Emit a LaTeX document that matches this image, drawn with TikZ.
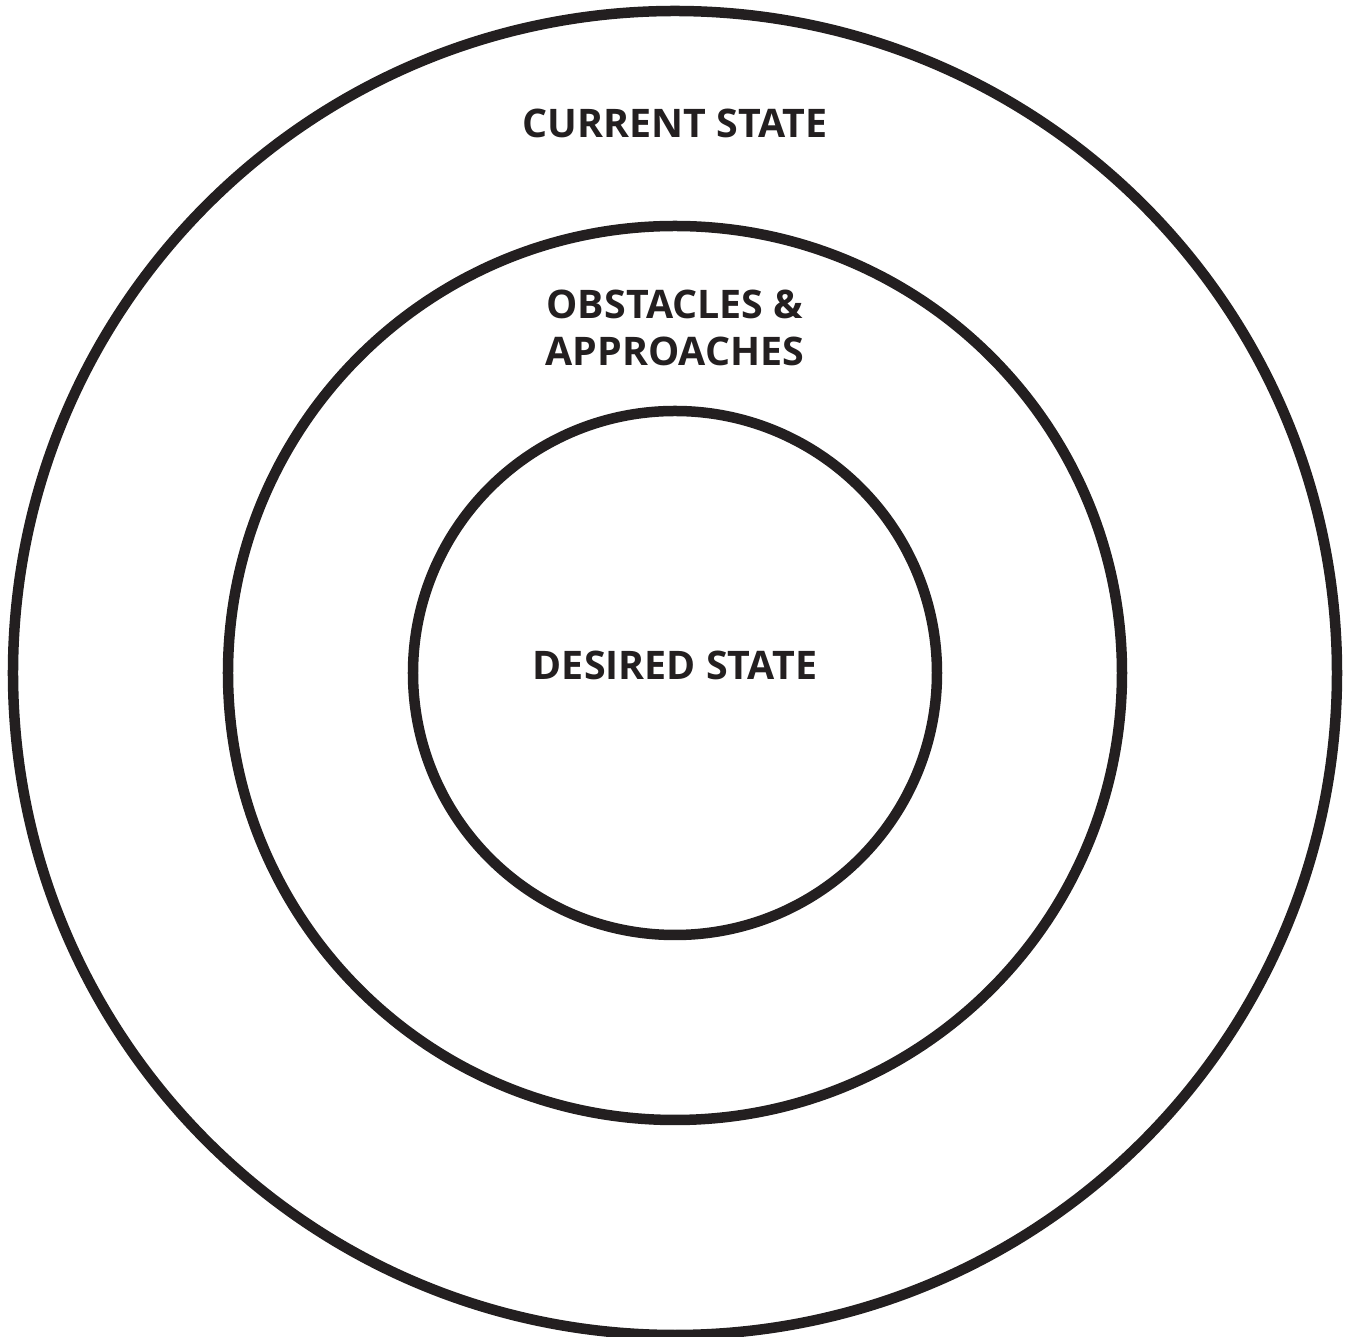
\documentclass[tikz,border=0pt]{standalone}
\usepackage{fontspec}
\setmainfont{Open Sans}
\usepackage{xcolor}
\usetikzlibrary{positioning}
\definecolor{ink}{HTML}{231F20}

\begin{document}
\begin{tikzpicture}[ring/.style={circle, draw=ink, line width=0.21cm, inner sep=0},
    every node/.style={font=\fontsize{22.4}{27.2}\selectfont\bfseries, text=ink}]
  \useasboundingbox (-13.5,-13.28) rectangle (13.46,13.46);

  \node[ring, minimum size=26.48cm] (current) at (0,0) {};
  \node[ring, minimum size=17.88cm] (obstacles) at (0,0) {};
  \node[ring, minimum size=10.48cm] (desired) at (0,0) {};

  \node[anchor=base] (currentlabel) at (0,10.70) {CURRENT STATE};
  \node[anchor=base, align=center] (obstacleslabel) at (0,6.14) {OBSTACLES \&\\APPROACHES};
  \node[anchor=base] (desiredlabel) at (0,-0.14) {DESIRED STATE};
\end{tikzpicture}
\end{document}
